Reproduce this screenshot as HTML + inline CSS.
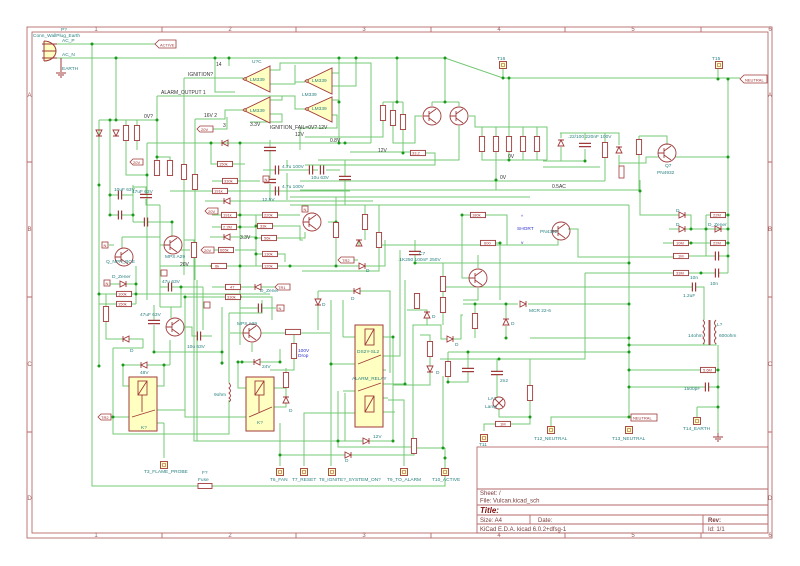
<!DOCTYPE html>
<html><head><meta charset="utf-8"><style>
html,body{margin:0;padding:0;background:#fff}
svg{display:block}
text{font-family:"Liberation Sans",sans-serif}
.t{fill:#2a8080;font-size:4.8px}
.k{fill:#333;font-size:5px}
.r{fill:#a03030;font-size:4px}
.f{fill:#a05a5a;font-size:6px}
.b{fill:#3030d0;font-size:4.8px}
</style></head><body>
<svg width="800" height="566" viewBox="0 0 800 566" xmlns="http://www.w3.org/2000/svg">
<defs>
<g id="rh"><rect x="-7.5" y="-2.6" width="15" height="5.2" fill="#fff" stroke="#a03a3a" stroke-width="0.9"/></g>
<g id="rv"><rect x="-2.6" y="-7.5" width="5.2" height="15" fill="#fff" stroke="#a03a3a" stroke-width="0.9"/></g>
<g id="dr" fill="none" stroke="#a03a3a" stroke-width="0.9"><path d="M-3,-3L3,0L-3,3Z M3,-3V3"/></g>
<g id="dl" fill="none" stroke="#a03a3a" stroke-width="0.9"><path d="M3,-3L-3,0L3,3Z M-3,-3V3"/></g>
<g id="dd" fill="none" stroke="#a03a3a" stroke-width="0.9"><path d="M-3,-3L0,3L3,-3Z M-3,3H3"/></g>
<g id="du" fill="none" stroke="#a03a3a" stroke-width="0.9"><path d="M-3,3L0,-3L3,3Z M-3,-3H3"/></g>
<g id="ch" fill="none" stroke="#a03a3a" stroke-width="1.2"><path d="M-1.6,-4.5V4.5 M1.6,-4.5V4.5"/></g>
<g id="cv" fill="none" stroke="#a03a3a" stroke-width="1.2"><path d="M-6,-1.6H6 M-6,1.6H6"/></g>
<g id="q" fill="none" stroke="#a03a3a" stroke-width="0.9"><circle r="9"/><path d="M-3,-5V5 M-3,-2L4,-7 M-3,2L4,7 M-9,0H-3"/></g>
<g id="tb"><rect x="-3.5" y="-3.5" width="7" height="7" fill="#ffffc2" stroke="#a03a3a" stroke-width="0.9"/><rect x="-1.5" y="-1.5" width="3" height="3" fill="none" stroke="#a03a3a" stroke-width="0.5"/></g>
<g id="j"><circle r="1.5" fill="#1a9a1a"/></g>
</defs>

<!-- frame -->
<g fill="none" stroke="#b56a6a" stroke-width="0.9">
<rect x="27" y="27" width="745" height="511"/>
<rect x="32" y="32" width="736" height="501"/>
<path d="M162,27V32 M296,27V32 M431,27V32 M565,27V32 M701,27V32 M162,533V538 M296,533V538 M431,533V538 M565,533V538 M701,533V538 M27,162H32 M27,297H32 M27,432H32 M768,162H772 M768,297H772 M768,432H772"/>
<rect x="477" y="447" width="291" height="86"/>
<path d="M477,489H768 M477,505H768 M477,515H768 M477,524H768 M530,515V524 M703,515V533"/>
</g>
<g class="f" text-anchor="middle">
<text x="96" y="31">1</text><text x="230" y="31">2</text><text x="364" y="31">3</text><text x="499" y="31">4</text><text x="633" y="31">5</text><text x="770" y="31">6</text>
<text x="96" y="537">1</text><text x="230" y="537">2</text><text x="364" y="537">3</text><text x="499" y="537">4</text><text x="633" y="537">5</text><text x="770" y="537">6</text>
<text x="29.5" y="97">A</text><text x="29.5" y="231">B</text><text x="29.5" y="366">C</text><text x="29.5" y="500">D</text>
<text x="770" y="97">A</text><text x="770" y="231">B</text><text x="770" y="366">C</text><text x="770" y="500">D</text>
</g>
<g fill="#7a3a3a" font-size="6">
<text x="480" y="495">Sheet: /</text>
<text x="480" y="502.5">File: Vulcan.kicad_sch</text>
<text x="480" y="513" font-weight="bold" font-style="italic" font-size="8" fill="#801010">Title:</text>
<text x="480" y="522">Size: A4</text>
<text x="538" y="522">Date:</text>
<text x="708" y="522" font-weight="bold">Rev:</text>
<text x="480" y="531">KiCad E.D.A.  kicad 6.0.2+dfsg-1</text>
<text x="708" y="531">Id: 1/1</text>
</g>

<!-- wires -->
<path fill="none" stroke="#74c874" stroke-width="1" d="
M57,44H155 M57,58H445L503,78H740 M503,68V78 M718,68V79
M92,44V486H198 M212,486H445V448
M116,58V120 M99,120H157 M99,120V366 M110,120V215
M126,120V126 M126,141V175H147 M137,120V126 M137,141V150
M157,96V161 M157,157H170V161 M157,96H295V109H305
M184,78H243 M184,78V165 M184,180V275
M215,58V92H235 M229,58V66
M195,119H225V110H243 M195,119V175 M195,190V280
M212,129H227V117
M147,143H371 M147,143V300
M211,143V164H217 M233,164H245
M240,143V345 M250,122H282V114H270
M270,70H280V63H371V143 M270,84H295V65 M295,82H305 M270,100H282V96
M332,73H339 M332,86H356V58 M332,100H339 M332,115H337V128H300V150
M339,58V143 M350,152H410 M426,153H435V165H305
M397,58V102 M383,102H403 M383,102V106 M393,102V110 M403,102V115
M383,120V137H305 M393,126V143H415V116H422 M403,130V153
M445,58V102 M432,102H459 M432,102V106 M459,102V106 M459,126V160H318
M469,116H475V127H547V160
M482,127V136 M496,127V136 M509,78V136 M523,127V136 M537,127V136
M482,152V160H547 M496,152V190 M509,152V160 M523,152V160 M537,152V160
M560,133H585V140 M561,133V138 M561,147V161 M543,161H585 M585,149V161 M543,167H600
M605,133V143 M605,158V181 M585,133H619V145 M619,155V166 M619,163H646V157H659
M639,136H667V145 M639,136V140 M639,154V191 M675,157H728 M728,79V273
M300,181H605 M300,190H640 M290,197H530 M290,205H629 M629,205V417
M640,180V215H679 M685,215H691V229 M669,229H679 M685,229H728
M706,215H711 M725,215H728 M706,215V256 M706,243H711 M725,243H728
M663,243H674 M688,243H706 M568,229H578V257H674 M688,256H715 M719,256H728
M585,273H674 M688,273H715 M719,273H728
M558,240V245H380 M415,263H629 M440,287H692 M696,287H704V320
M463,304H518 M528,304H629 M530,338H629 M629,345H716V343 M704,343V345 M530,352H629 M440,359H585V273
M629,370H700 M716,370H718 M629,387H705 M709,387H718 M718,345V433 M697,407H718 M697,407V418
M629,417H551V427
M475,304V313 M475,328V338 M506,304V318 M506,326V338
M407,310H427V312 M427,318V325H441V339H447 M453,339H461V315H463
M441,325H413V438 M420,335H430V342 M430,357V366 M430,372V385H393
M448,352H629 M448,352V362 M468,352V368 M468,372V382H448V377
M497,359V371 M497,375V397 M499,409V417H530V400 M530,359V386
M511,424H530V417 M495,424H484V431
M443,376V448
M113,417H129 M113,348V434H229V400 M229,383V313
M158,410H185V417H246 M185,297V417
M164,423V458 M280,423V466 M280,455H345 M351,455H414V454
M304,466V413H355 M331,466V300 M404,466V400H388 M383,398H388
M414,448H445 M345,393V441 M338,391V447H414
M194,390V441H363 M369,441H393V337 M197,280V441
M343,337H355 M383,337H393 M331,364H355 M383,356H400V250 M383,370H386 M343,391H355 M383,384H405V280 M383,412H395 M343,337V300
M110,195H118 M122,195H133 M110,215H118 M122,215H133 M133,185V222 M133,222H144 M148,222H172 M172,222V237
M133,187H146V194 M146,199V205H160 M122,237H160 M122,237V248 M109,245H114 M160,205V307
M184,240H194V243 M194,258V390 M165,245H160 M181,250H190
M160,266H212 M226,266H256 M99,294H116 M132,294H270 M99,304H116 M132,304H136 M136,266V304
M110,284H120 M126,284H136
M160,307H181V287H203 M160,287H168 M172,287H181 M203,287V330
M154,305V320 M154,325V352H222 M222,307V365 M171,307V318 M184,327H192V336H197 M201,336H212
M106,294V306 M106,322V339H123 M129,339H143V348 M113,348H143
M123,365H141 M147,365H170 M123,365V386H129 M164,365V386H157 M170,365V340 M157,410H158 M157,423H164
M212,181H222 M238,181H260 M170,191H212 M228,191H350 M205,201H224 M230,201H373
M212,215H221 M237,215H256 M212,227H221 M237,227H256 M210,237H224 M230,237H256 M214,250H218 M235,250H256
M256,215V266 M256,215H262 M278,215H300 M256,226H258 M272,226H300V240H303 M256,238H262 M276,238H305V232
M256,254H262 M278,254H285V262 M256,266H262 M278,266H359 M365,266H385V240
M300,170H309 M313,170H318 M326,170H340 M263,170H275 M279,170H300 M287,160V168 M287,173V200
M270,140V147 M270,151V178 M270,184V200 M345,160V176 M345,180V205
M328,222H336 M336,197V223 M336,238V266 M365,205V215 M365,230V240 M359,240V246 M379,205V233 M379,248V271H302 M354,260H358
M415,240V251 M415,255V263 M443,263V277 M443,292V297 M443,313V325
M462,215H471 M485,215H507V245 M462,215V278H470 M496,243H500V300 M478,268V255 M478,288V300H463
M212,287H226 M240,287H255 M261,287H275 M185,297H226 M240,297H272V320
M240,308H258 M262,308H276 M230,333H243 M261,333H330 M252,343V352
M238,362V388H246 M238,362H254 M260,362H280V349 M274,388H286 M286,368V373 M286,388V397 M286,403V407H274
M288,332H294V343 M294,359V370H270 M229,313H262V300
M318,291H354 M360,291H390V373 M318,291V299 M318,305V330
"/>

<!-- junctions -->
<g>
<use href="#j" x="92" y="44"/><use href="#j" x="116" y="58"/><use href="#j" x="215" y="58"/><use href="#j" x="229" y="58"/><use href="#j" x="339" y="58"/><use href="#j" x="356" y="58"/><use href="#j" x="397" y="58"/><use href="#j" x="445" y="58"/>
<use href="#j" x="503" y="78"/><use href="#j" x="509" y="78"/><use href="#j" x="718" y="79"/><use href="#j" x="728" y="79"/>
<use href="#j" x="110" y="120"/><use href="#j" x="116" y="120"/><use href="#j" x="157" y="120"/><use href="#j" x="147" y="175"/><use href="#j" x="157" y="157"/>
<use href="#j" x="211" y="143"/><use href="#j" x="240" y="143"/><use href="#j" x="339" y="102"/><use href="#j" x="339" y="143"/><use href="#j" x="397" y="102"/><use href="#j" x="445" y="102"/><use href="#j" x="403" y="153"/>
<use href="#j" x="496" y="180"/><use href="#j" x="509" y="160"/><use href="#j" x="585" y="161"/><use href="#j" x="728" y="157"/><use href="#j" x="640" y="191"/>
<use href="#j" x="691" y="229"/><use href="#j" x="706" y="229"/><use href="#j" x="728" y="229"/><use href="#j" x="728" y="215"/><use href="#j" x="728" y="243"/><use href="#j" x="728" y="256"/><use href="#j" x="691" y="243"/><use href="#j" x="701" y="273"/>
<use href="#j" x="629" y="263"/><use href="#j" x="629" y="304"/><use href="#j" x="629" y="338"/><use href="#j" x="629" y="345"/><use href="#j" x="629" y="352"/><use href="#j" x="629" y="370"/><use href="#j" x="629" y="387"/><use href="#j" x="718" y="370"/><use href="#j" x="718" y="387"/><use href="#j" x="718" y="407"/><use href="#j" x="629" y="417"/>
<use href="#j" x="475" y="304"/><use href="#j" x="506" y="304"/><use href="#j" x="506" y="338"/><use href="#j" x="415" y="263"/><use href="#j" x="462" y="215"/><use href="#j" x="500" y="243"/>
<use href="#j" x="468" y="352"/><use href="#j" x="448" y="382"/><use href="#j" x="499" y="359"/><use href="#j" x="530" y="417"/><use href="#j" x="443" y="448"/><use href="#j" x="445" y="458"/>
<use href="#j" x="110" y="195"/><use href="#j" x="110" y="215"/><use href="#j" x="133" y="215"/><use href="#j" x="172" y="222"/><use href="#j" x="99" y="185"/><use href="#j" x="99" y="294"/><use href="#j" x="136" y="294"/><use href="#j" x="136" y="284"/><use href="#j" x="99" y="366"/>
<use href="#j" x="181" y="287"/><use href="#j" x="154" y="352"/><use href="#j" x="222" y="352"/><use href="#j" x="222" y="363"/><use href="#j" x="123" y="365"/><use href="#j" x="164" y="365"/><use href="#j" x="113" y="417"/>
<use href="#j" x="212" y="266"/><use href="#j" x="240" y="266"/><use href="#j" x="256" y="226"/><use href="#j" x="256" y="238"/><use href="#j" x="256" y="254"/><use href="#j" x="240" y="215"/><use href="#j" x="240" y="227"/><use href="#j" x="336" y="222"/><use href="#j" x="336" y="266"/><use href="#j" x="290" y="266"/>
<use href="#j" x="185" y="297"/><use href="#j" x="238" y="362"/><use href="#j" x="242" y="362"/><use href="#j" x="280" y="455"/><use href="#j" x="280" y="362"/><use href="#j" x="331" y="364"/><use href="#j" x="393" y="337"/><use href="#j" x="405" y="384"/><use href="#j" x="338" y="441"/><use href="#j" x="393" y="441"/><use href="#j" x="414" y="448"/>
<use href="#j" x="345" y="143"/><use href="#j" x="240" y="297"/>
</g>

<!-- plug -->
<g fill="#ffffc2" stroke="#a03a3a" stroke-width="1">
<path d="M44,41V61 M44,41A12,10 0 0 1 44,61"/>
<path d="M42,44H57 M42,51H56 M42,58H57" fill="none"/>
<path d="M61,58V72 M56,73H66 M58,75H64 M60,77H62" fill="none"/>
</g>

<!-- op amps -->
<g fill="#ffffc2" stroke="#a03a3a" stroke-width="0.9">
<path d="M243,79L270,66V92Z"/><path d="M243,110L270,97V123Z"/>
<path d="M305,81L332,68V94Z"/><path d="M305,109L332,97V122Z"/>
<circle cx="245" cy="79" r="1.3"/><circle cx="245" cy="110" r="1.3"/><circle cx="307" cy="81" r="1.3"/><circle cx="307" cy="109" r="1.3"/>
</g>

<!-- relays -->
<g fill="#ffffc2" stroke="#a03a3a" stroke-width="1">
<rect x="129" y="377" width="28" height="54"/><rect x="246" y="377" width="28" height="54"/><rect x="355" y="325" width="28" height="102"/>
</g>
<g fill="none" stroke="#a03a3a" stroke-width="0.9">
<rect x="138" y="381" width="9" height="14"/><path d="M138,395L147,381 M142,395V412 M132,417L155,410"/>
<rect x="255" y="381" width="9" height="14"/><path d="M255,395L264,381 M259,395V412 M249,417L272,407"/>
<rect x="365" y="329" width="9" height="16"/><path d="M365,345L374,329 M358,364L381,355 M358,391L381,383"/>
<rect x="365" y="396" width="9" height="16"/><path d="M365,412L374,396"/>
</g>

<!-- transistors -->
<use href="#q" x="124" y="257"/><use href="#q" x="173" y="245"/><use href="#q" x="175" y="327"/><use href="#q" x="252" y="333"/><use href="#q" x="312" y="222"/><use href="#q" x="478" y="278"/><use href="#q" x="561" y="231"/><use href="#q" x="432" y="116"/><use href="#q" x="459" y="116"/><use href="#q" x="667" y="153"/>

<!-- resistors -->
<g>
<use href="#rh" x="418" y="153"/><use href="#rh" x="225" y="164"/><use href="#rh" x="230" y="181"/><use href="#rh" x="220" y="191"/><use href="#rh" x="229" y="215"/><use href="#rh" x="229" y="227"/><use href="#rh" x="226" y="250"/><use href="#rh" x="219" y="266"/>
<use href="#rh" x="270" y="215"/><use href="#rh" x="265" y="226"/><use href="#rh" x="269" y="238"/><use href="#rh" x="270" y="254"/><use href="#rh" x="270" y="266"/><use href="#rh" x="124" y="294"/><use href="#rh" x="124" y="304"/>
<use href="#rh" x="233" y="287"/><use href="#rh" x="233" y="297"/><use href="#rh" x="478" y="215"/><use href="#rh" x="488" y="243"/><use href="#rh" x="681" y="243"/><use href="#rh" x="681" y="256"/><use href="#rh" x="681" y="273"/>
<use href="#rh" x="718" y="215"/><use href="#rh" x="718" y="243"/><use href="#rh" x="708" y="370"/><use href="#rh" x="503" y="424"/><use href="#rh" x="293" y="332"/>
<use href="#rv" x="126" y="133"/><use href="#rv" x="137" y="133"/><use href="#rv" x="157" y="168"/><use href="#rv" x="170" y="168"/><use href="#rv" x="184" y="172"/><use href="#rv" x="195" y="182"/>
<use href="#rv" x="383" y="113"/><use href="#rv" x="393" y="118"/><use href="#rv" x="403" y="122"/>
<use href="#rv" x="482" y="144"/><use href="#rv" x="496" y="144"/><use href="#rv" x="509" y="144"/><use href="#rv" x="523" y="144"/><use href="#rv" x="537" y="144"/><use href="#rv" x="605" y="150"/><use href="#rv" x="639" y="147"/>
<use href="#rv" x="194" y="250"/><use href="#rv" x="106" y="314"/><use href="#rv" x="336" y="230"/><use href="#rv" x="365" y="222"/><use href="#rv" x="379" y="240"/><use href="#rv" x="443" y="284"/><use href="#rv" x="443" y="305"/>
<use href="#rv" x="475" y="321"/><use href="#rv" x="417" y="301"/><use href="#rv" x="430" y="349"/><use href="#rv" x="448" y="369"/><use href="#rv" x="530" y="393"/><use href="#rv" x="286" y="380"/><use href="#rv" x="294" y="351"/><use href="#rv" x="414" y="446"/>
</g>
<rect x="198" y="483.5" width="14" height="5" fill="#fff" stroke="#a03a3a" stroke-width="0.9"/>
<rect x="619" y="166" width="5" height="12" fill="#fff" stroke="#a03a3a" stroke-width="0.8"/>

<!-- diodes -->
<g>
<use href="#dd" x="99" y="133"/><use href="#dd" x="116" y="133"/><use href="#dl" x="225" y="143"/><use href="#dl" x="227" y="201"/><use href="#dl" x="227" y="237"/>
<use href="#dr" x="362" y="266"/><use href="#du" x="359" y="243"/><use href="#du" x="561" y="143"/><use href="#du" x="619" y="150"/><use href="#dr" x="682" y="215"/><use href="#dr" x="682" y="229"/><use href="#dr" x="718" y="229"/>
<use href="#dr" x="123" y="284"/><use href="#dl" x="126" y="339"/><use href="#dl" x="144" y="365"/><use href="#dl" x="257" y="362"/><use href="#dl" x="258" y="287"/><use href="#du" x="286" y="400"/><use href="#dl" x="357" y="291"/><use href="#dd" x="318" y="302"/>
<use href="#du" x="427" y="315"/><use href="#dr" x="450" y="339"/><use href="#dd" x="430" y="369"/><use href="#du" x="506" y="322"/><use href="#dr" x="348" y="455"/><use href="#dr" x="366" y="441"/><use href="#dr" x="523" y="304"/>
</g>

<!-- caps -->
<g>
<use href="#ch" x="120" y="195"/><use href="#ch" x="120" y="215"/><use href="#ch" x="146" y="222"/><use href="#ch" x="170" y="287"/><use href="#ch" x="199" y="336"/><use href="#ch" x="260" y="308"/><use href="#ch" x="311" y="170"/><use href="#ch" x="322" y="170"/><use href="#ch" x="277" y="170"/><use href="#ch" x="277" y="191"/>
<use href="#ch" x="694" y="287"/><use href="#ch" x="717" y="256"/><use href="#ch" x="717" y="273"/><use href="#ch" x="707" y="387"/>
<use href="#cv" x="146" y="196"/><use href="#cv" x="154" y="322"/><use href="#cv" x="415" y="253"/><use href="#cv" x="497" y="373"/><use href="#cv" x="585" y="145"/><use href="#cv" x="270" y="149"/><use href="#cv" x="270" y="181"/><use href="#cv" x="345" y="178"/><use href="#cv" x="468" y="370"/>
</g>

<!-- lamp, coils -->
<g fill="none" stroke="#a03a3a" stroke-width="0.9">
<circle cx="499" cy="403" r="6"/><path d="M495,399L503,407 M503,399L495,407"/>
<path d="M703,320q3,3 0,6q3,3 0,6q3,3 0,6q3,3 0,6 M716,320q-3,3 0,6q-3,3 0,6q-3,3 0,6q-3,3 0,6 M709,320V345 M710,320V345"/>
<path d="M229,383q3,3 0,5q3,3 0,5q3,3 0,5q3,2 0,4"/>
<path d="M718,433V437 M713,437H723 M715,439H721 M717,441H719"/>
</g>

<!-- terminals -->
<g>
<use href="#tb" x="503" y="65"/><use href="#tb" x="719" y="65"/><use href="#tb" x="164" y="465"/><use href="#tb" x="280" y="472"/><use href="#tb" x="304" y="472"/><use href="#tb" x="332" y="472"/><use href="#tb" x="404" y="472"/><use href="#tb" x="445" y="472"/>
<use href="#tb" x="484" y="438"/><use href="#tb" x="551" y="430"/><use href="#tb" x="629" y="430"/><use href="#tb" x="697" y="421"/>
</g>

<!-- net labels -->
<g fill="#fff" stroke="#a03a3a" stroke-width="0.8">
<path d="M155,44L159,40H176V48H159Z"/><path d="M740,79L744,75H767V83H744Z"/>
<rect x="631" y="414" width="26" height="7"/>
<path d="M130,162L133,159H143V165H133Z"/><path d="M197,129L200,126H213V132H200Z"/><path d="M205,211L208,208H218V214H208Z"/><path d="M201,250L204,247H214V253H204Z"/>
<rect x="263" y="176" width="6" height="6"/><rect x="302" y="206" width="6" height="6"/><rect x="102" y="242" width="6" height="6"/><rect x="104" y="280" width="6" height="6"/><rect x="277" y="305" width="7" height="6"/>
<rect x="204" y="302" width="6" height="6"/><rect x="161" y="270" width="6" height="6"/>
<path d="M275,287L278,284H290V290H278Z"/><path d="M338,260L341,257H354V263H341Z"/><path d="M98,417L101,414H111V420H101Z"/>
</g>
<g class="r">
<text x="160" y="46.5" fill="#a03a3a">ACTIVE</text><text x="745" y="81.5">NEUTRAL</text><text x="633" y="419.5">NEUTRAL</text>
<text x="133" y="164">20V</text><text x="201" y="131">20V</text><text x="208" y="213">20V</text><text x="204" y="252">20V</text>
<text x="264.5" y="181">N</text><text x="303.5" y="211">N</text><text x="103.5" y="247">N</text><text x="105.5" y="285">N</text><text x="278.5" y="310">N</text>
<text x="278" y="289">TR1</text><text x="342" y="262">TR2</text><text x="101" y="419">TR2</text>
</g>

<!-- text labels -->
<g class="t">
<text x="61" y="31">P?</text><text x="33" y="37">Conn_WallPlug_Earth</text>
<text x="62" y="42">AC_P</text><text x="62" y="56">AC_N</text><text x="62" y="70">EARTH</text>
<text x="252" y="63">U?C</text><text x="250" y="81">LM339</text><text x="250" y="112">LM339</text><text x="312" y="82">LM339</text><text x="302" y="96">LM339</text><text x="312" y="110">LM339</text>
<text x="497" y="60">T16</text><text x="712" y="60">T15</text>
<text x="665" y="167">Q7</text><text x="657" y="174">PN4932</text>
<text x="568" y="138">.22/100 220nF 100V</text>
<text x="419" y="255">C7</text><text x="398" y="261">.1K250 100nF 250V</text>
<text x="540" y="233">PN4392</text>
<text x="529" y="312">MCR 22-6</text>
<text x="683" y="297">1.2uF</text><text x="690" y="279">10n</text><text x="710" y="285">10n</text>
<text x="688" y="337">14ohm</text><text x="719" y="337">600ohm</text><text x="717" y="326">L?</text>
<text x="684" y="390">1500pF</text>
<text x="488" y="400">LA?</text><text x="485" y="408">Lamp</text>
<text x="500" y="382">2n2</text>
<text x="479" y="446">T11</text><text x="534" y="440">T12_NEUTRAL</text><text x="612" y="440">T13_NEUTRAL</text><text x="683" y="430">T14_EARTH</text>
<text x="144" y="473">T3_FLAME_PROBE</text><text x="202" y="474">F?</text><text x="198" y="481">Fuse</text>
<text x="270" y="481">T6_FAN</text><text x="292" y="481">T7_RESET</text><text x="319" y="481">T8_IGNITE?_SYSTEM_ON?</text><text x="387" y="481">T9_TO_ALARM</text><text x="432" y="481">T10_ACTIVE</text>
<text x="141" y="429">K?</text><text x="257" y="424">K?</text><text x="214" y="396">9ohm</text>
<text x="357" y="353">DS2Y-SL2</text><text x="352" y="380">ALARM_RELAY</text><text x="373" y="438">12V</text>
<text x="140" y="374">48V</text><text x="262" y="368">24V</text><text x="112" y="278">D_Zener</text><text x="260" y="292">D_Zener</text>
<text x="106" y="263">Q_NPN_BCE</text><text x="165" y="258">MPS A29</text><text x="237" y="325">MPS A29</text>
<text x="114" y="191">10uF 63V</text><text x="132" y="193">47uF 63V</text><text x="162" y="283">47u 63V</text><text x="140" y="316">47uF 63V</text><text x="187" y="348">10u 63V</text>
<text x="282" y="168">4.7u 100V</text><text x="282" y="188">4.7u 100V</text><text x="311" y="179">10u 63V</text>
<text x="262" y="201">12.5V</text>
<text x="130" y="352">D</text><text x="289" y="412">D</text><text x="351" y="300">D</text><text x="322" y="306">D</text><text x="366" y="272">D</text><text x="345" y="462">D</text><text x="436" y="374">D</text><text x="455" y="346">D</text><text x="511" y="325">D</text><text x="432" y="318">D</text>
<text x="676" y="212">D</text><text x="676" y="226">D</text><text x="708" y="226">D_Zener</text>
</g>
<g class="k">
<text x="188" y="76">IGNITION?</text><text x="161" y="94">ALARM_OUTPUT 1</text><text x="144" y="118">0V?</text>
<text x="216" y="66">14</text><text x="204" y="117">16V  2</text><text x="223" y="127">3</text><text x="250" y="126">3.3V</text>
<text x="270" y="129">IGNITION_FAIL=0V?  12V</text><text x="295" y="136">12V</text><text x="330" y="142">0.8V</text><text x="378" y="152">12V</text>
<text x="508" y="158">0V</text><text x="500" y="179">0V</text><text x="552" y="188">0.5AC</text>
<text x="180" y="266">20V</text><text x="240" y="239">3.3V</text>
</g>
<text class="b" x="517" y="230">SHORT</text>
<text class="b" x="521" y="218">^</text><text class="b" x="521" y="244">v</text>
<text class="b" x="298" y="352">100V</text><text class="b" x="298" y="357">Drop</text>
<g class="r" font-size="3.6">
<text x="412" y="154.5">33.2</text><text x="219" y="165.5">150k</text><text x="224" y="182.5">330k</text><text x="214" y="192.5">191k</text><text x="223" y="216.5">191k</text><text x="223" y="228.5">2.2M</text><text x="220" y="251.5">665k</text><text x="215" y="267.5">6k</text>
<text x="264" y="216.5">220k</text><text x="260" y="227.5">33k</text><text x="264" y="239.5">56k</text><text x="264" y="255.5">130k</text><text x="264" y="267.5">120k</text><text x="118" y="295.5">100k</text><text x="118" y="305.5">150k</text>
<text x="230" y="288.5">47</text><text x="227" y="298.5">330k</text><text x="472" y="216.5">180k</text><text x="484" y="244.5">600</text><text x="676" y="244.5">10M</text><text x="678" y="257.5">1M</text><text x="676" y="274.5">33M</text>
<text x="713" y="216.5">22M</text><text x="713" y="244.5">22M</text><text x="703" y="371.5">5.6M</text><text x="500" y="425.5">1M</text>
</g>
</svg>
</body></html>
